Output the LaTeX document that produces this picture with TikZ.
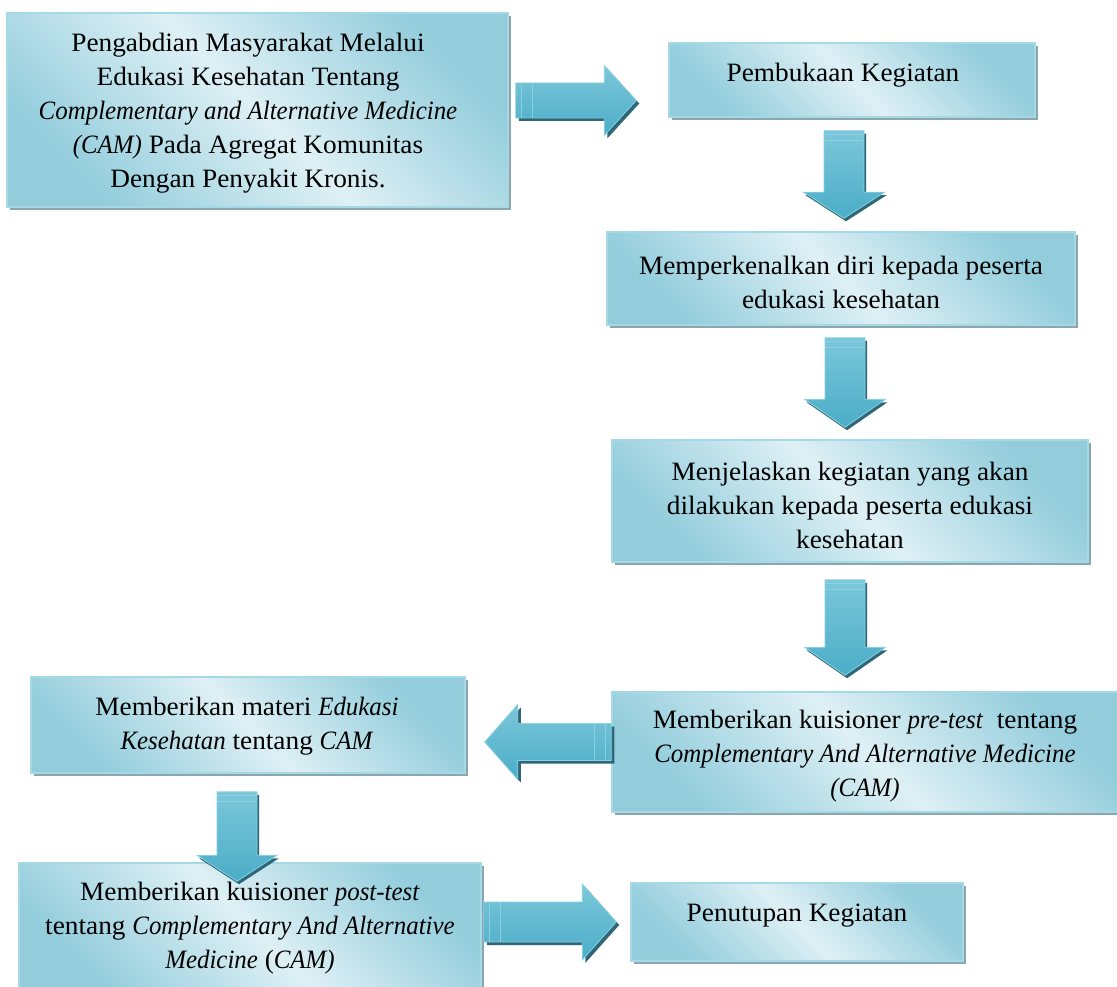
\documentclass[tikz,border=0pt]{standalone}
\usepackage{fontspec}
\setmainfont{Liberation Serif}[UprightFeatures={FakeStretch=1.03}, ItalicFeatures={FakeStretch=0.94}]
\usetikzlibrary{calc,shadows}
\definecolor{bdark}{HTML}{93CDDC}
\definecolor{blight}{HTML}{DEF0F5}
\definecolor{bborder}{HTML}{A6D9E6}
\definecolor{bshadow}{HTML}{8CA6AE}
\definecolor{alight}{HTML}{7CC7DA}
\definecolor{amid}{HTML}{4AADC7}
\definecolor{adark}{HTML}{2E6777}
\definecolor{aedge}{HTML}{8AD0E1}
\tikzset{
  box/.style={rectangle, draw=bborder, line width=1.5pt, top color=bdark, bottom color=bdark, middle color=blight, shading angle=-45,
    drop shadow={shadow xshift=3pt, shadow yshift=-3pt, fill=bshadow, opacity=1}, inner sep=0pt},
  boxtext/.style={inner sep=0pt, align=center, font=\fontsize{26.5}{34}\selectfont},
  arrowbody/.style={draw=aedge, line width=0.8pt, top color=alight, bottom color=amid},
  arrowshadow/.style={fill=adark},
  bandline/.style={draw=aedge, line width=1pt},
}
% horizontal arrow polygon: #1 dx, #2 dy, #3 shaft half, #4 head half, #5 head length
\newcommand\HPoly[5]{({\x1+(#1)},{\y2+(#3)+(#2)}) -- ({\x2-(\n1)*(#5)+(#1)},{\y2+(#3)+(#2)}) -- ({\x2-(\n1)*(#5)+(#1)},{\y2+(#4)+(#2)}) -- ({\x2+(#1)},{\y2+(#2)}) -- ({\x2-(\n1)*(#5)+(#1)},{\y2-(#4)+(#2)}) -- ({\x2-(\n1)*(#5)+(#1)},{\y2-(#3)+(#2)}) -- ({\x1+(#1)},{\y2-(#3)+(#2)}) -- cycle}
\newcommand\VPoly[5]{({\x2-(#3)+(#1)},{\y1+(#2)}) -- ({\x2-(#3)+(#1)},{\y2-(\n1)*(#5)+(#2)}) -- ({\x2-(#4)+(#1)},{\y2-(\n1)*(#5)+(#2)}) -- ({\x2+(#1)},{\y2+(#2)}) -- ({\x2+(#4)+(#1)},{\y2-(\n1)*(#5)+(#2)}) -- ({\x2+(#3)+(#1)},{\y2-(\n1)*(#5)+(#2)}) -- ({\x2+(#3)+(#1)},{\y1+(#2)}) -- cycle}
\newcommand\HArr[5]{%
  \fill[arrowshadow] let \p1=(#1), \p2=(#2), \n1={sign(\x2-\x1)} in \HPoly{3pt}{-3pt}{#3}{#4}{#5};
  \path[arrowbody] let \p1=(#1), \p2=(#2), \n1={sign(\x2-\x1)} in \HPoly{0pt}{0pt}{#3}{#4}{#5};
  \path[bandline] let \p1=(#1), \p2=(#2), \n1={sign(\x2-\x1)} in
    ({\x1+(\n1)*6pt},{\y2-(#3)}) -- ({\x1+(\n1)*6pt},{\y2+(#3)})
    ({\x1+(\n1)*17pt},{\y2-(#3)}) -- ({\x1+(\n1)*17pt},{\y2+(#3)});
}
\newcommand\VArr[5]{%
  \fill[arrowshadow] let \p1=(#1), \p2=(#2), \n1={sign(\y2-\y1)} in \VPoly{2pt}{-3pt}{#3}{#4}{#5};
  \path[arrowbody] let \p1=(#1), \p2=(#2), \n1={sign(\y2-\y1)} in \VPoly{0pt}{0pt}{#3}{#4}{#5};
  \path[bandline] let \p1=(#1), \p2=(#2), \n1={sign(\y2-\y1)} in
    ({\x2-(#3)},{\y1+(\n1)*4pt}) -- ({\x2+(#3)},{\y1+(\n1)*4pt})
    ({\x2-(#3)},{\y1+(\n1)*10pt}) -- ({\x2+(#3)},{\y1+(\n1)*10pt});
}
\begin{document}
\begin{tikzpicture}[x=1pt,y=-1pt]
\useasboundingbox (0,0) rectangle (1117,987);
\fill[white] (0,0) rectangle (1117,987);

% boxes
\node[box, minimum width=501pt, minimum height=194pt] (A) at (257.5,110) {};
\node[box, minimum width=366pt, minimum height=74pt] (B) at (852,80) {};
\node[box, minimum width=468pt, minimum height=93pt] (C) at (841,278.5) {};
\node[box, minimum width=476pt, minimum height=122pt] (D) at (850,501) {};
\node[box, minimum width=509pt, minimum height=120pt] (E) at (866.5,752) {};
\node[box, minimum width=434pt, minimum height=96pt] (F) at (248,725) {};
\node[box, minimum width=462pt, minimum height=127pt] (G) at (250,926.5) {};
\node[box, minimum width=332pt, minimum height=78pt] (H) at (797,922) {};

% texts
\node[boxtext] (At) at (248,113) {Pengabdian Masyarakat Melalui\\Edukasi Kesehatan Tentang\\\textit{Complementary and Alternative Medicine}\\\textit{(CAM)} Pada Agregat Komunitas\\Dengan Penyakit Kronis.};
\node[boxtext] (Bt) at (843,75) {Pembukaan Kegiatan};
\node[boxtext] (Ct) at (841,282.5) {Memperkenalkan diri kepada peserta\\edukasi kesehatan};
\node[boxtext] (Dt) at (850,505) {Menjelaskan kegiatan yang akan\\dilakukan kepada peserta edukasi\\kesehatan};
\node[boxtext] (Et) at (865,756.5) {Memberikan kuisioner \textit{pre-test}\ \ tentang\\\textit{Complementary And Alternative Medicine}\\\textit{(CAM)}};
\node[boxtext] (Ft) at (247,726) {Memberikan materi \textit{Edukasi}\\\textit{Kesehatan} tentang \textit{CAM}};
\node[boxtext] (Gt) at (250,928.5) {Memberikan kuisioner \textit{post-test}\\tentang \textit{Complementary And Alternative}\\\textit{Medicine} (\textit{CAM)}};
\node[boxtext] (Ht) at (797,916) {Penutupan Kegiatan};

% arrow end points
\coordinate (a1s) at ($(A.east)+(7,-9.5)$);
\coordinate (a1e) at ($(B.west)+(-32,20.5)$);
\coordinate (a2s) at ($(B.south)+(-8,13)$);
\coordinate (a2e) at ($(C.north)+(3,-13)$);
\coordinate (a3s) at ($(C.south)+(4,12)$);
\coordinate (a3e) at ($(D.north)+(-5,-12)$);
\coordinate (a4s) at ($(D.south)+(-5,17)$);
\coordinate (a4e) at ($(E.north)+(-21.5,-16)$);
\coordinate (a5s) at ($(E.west)+(0,-10)$);
\coordinate (a5e) at ($(F.east)+(19,17)$);
\coordinate (a6s) at ($(F.south)+(-11,18)$);
\coordinate (a6e) at ($(G.north)+(-13,19)$);
\coordinate (a7s) at ($(G.east)+(2,-4.5)$);
\coordinate (a7e) at ($(H.west)+(-14,0)$);

\HArr{a1s}{a1e}{17.5pt}{35pt}{32pt}
\VArr{a2s}{a2e}{20pt}{40.5pt}{26pt}
\VArr{a3s}{a3e}{20pt}{40.5pt}{28pt}
\VArr{a4s}{a4e}{20pt}{40.5pt}{28pt}
\HArr{a5s}{a5e}{18.5pt}{37.5pt}{33pt}
\VArr{a6s}{a6e}{20pt}{40pt}{26pt}
\HArr{a7s}{a7e}{20pt}{38pt}{34pt}
\end{tikzpicture}
\end{document}
